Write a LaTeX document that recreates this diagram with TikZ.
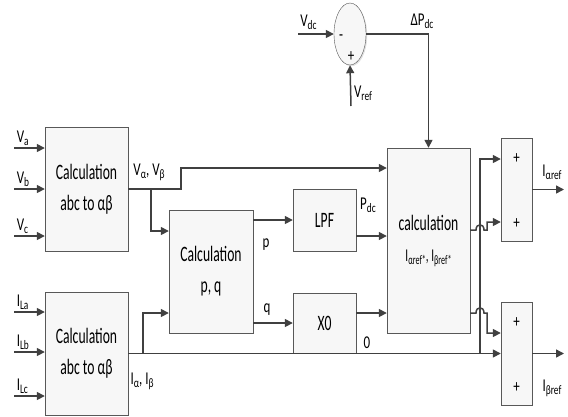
\documentclass[tikz,border=0pt]{standalone}
\usepackage{fontspec}
\setmainfont{Carlito}[FakeStretch=0.72]
\newfontfamily\boxfont{Carlito}[FakeStretch=0.62]
\usetikzlibrary{arrows.meta,shapes.geometric,shadows,positioning}
\definecolor{wirecol}{HTML}{404040}
\definecolor{edgecol}{HTML}{585858}
\newcommand{\lo}[1]{\raisebox{-0.35ex}{\fontsize{13}{13}\selectfont#1}}

\begin{document}
\begin{tikzpicture}[x=1pt,y=-1pt,
	blk/.style={draw=edgecol,fill=gray!6,inner sep=0pt,align=center,
		drop shadow={shadow xshift=1.2pt,shadow yshift=-1.2pt,opacity=.25},
		font=\boxfont\fontsize{22}{31}\selectfont},
	wire/.style={draw=wirecol,line width=1.5pt},
	arr/.style={wire,-{Triangle[length=8pt,width=8pt]}},
	lbl/.style={font=\fontsize{18}{20}\selectfont,inner sep=2pt},
	sgn/.style={font=\fontsize{18}{20}\selectfont,inner sep=0pt}]
	\useasboundingbox (0,0) rectangle (568,416);
	% blocks
	\node[blk,minimum width=83pt,minimum height=124pt] (abcV) at (86.5,189) {Calculation\\abc to αβ};
	\node[blk,minimum width=83pt,minimum height=123pt] (abcI) at (86.5,353.5) {Calculation\\abc to αβ};
	\node[blk,minimum width=84pt,minimum height=123pt] (pq) at (211,271.5) {Calculation\\p, q};
	\node[blk,minimum width=63pt,minimum height=62pt] (lpf) at (324.5,220) {LPF};
	\node[blk,minimum width=63pt,minimum height=60pt] (xo) at (324.5,323) {X0};
	\node[blk,minimum width=83pt,minimum height=185pt] (ref) at (428.5,240.5)
		{calculation\\{\fontsize{18}{20}\selectfont I\lo{αref*}, I\lo{βref*}}};
	\node[blk,minimum width=31pt,minimum height=103pt] (addA) at (516.5,189.5) {};
	\node[blk,minimum width=31pt,minimum height=103pt] (addB) at (516.5,353.5) {};
	\node[blk,ellipse,minimum width=32pt,minimum height=62pt] (sum) at (350,34) {};
	\node[sgn] at (341,38) {-};
	\node[sgn] at (351,57) {+};
	\foreach \y in {159,224} \node[sgn] at (516.5,\y) {+};
	\foreach \y in {323,388} \node[sgn] at (516.5,\y) {+};
	% inputs
	\foreach \y/\s in {148/a,189/b,236/c} {
		\coordinate (inV\s) at (14,\y);
		\draw[arr] (inV\s) node[lbl,anchor=south west] {V\lo{\s}} -- (inV\s -| abcV.west);
	}
	\foreach \y/\s in {312/La,352/Lb,396/Lc} {
		\coordinate (inI\s) at (14,\y);
		\draw[arr] (inI\s) node[lbl,anchor=south west] {I\lo{\s}} -- (inI\s -| abcI.west);
	}
	% voltages
	\coordinate (jV) at (151,189);
	\draw[wire] (abcV.east) -- (jV);
	\draw[arr] (jV) |- (pq.west |- 0,231);
	\draw[arr] (jV) -- (181,189) |- (ref.west |- 0,168);
	\node[lbl] at (149,172) {V\lo{α}, V\lo{β}};
	% currents
	\coordinate (jI) at (143,353.5);
	\coordinate (jR) at (480,353.5);
	\draw[arr] (abcI.east) -- (addB.west);
	\draw[arr] (jI) |- (pq.west |- 0,313);
	\draw[arr] (jR) |- (addA.west |- 0,159);
	\node[lbl] at (142,381) {I\lo{α}, I\lo{β}};
	% p, q
	\draw[arr] (pq.east |- lpf.west) -- (lpf.west);
	\draw[arr] (pq.east |- xo.west) -- (xo.west);
	\node[lbl] at (266,245) {p};
	\node[lbl] at (267,310) {q};
	\draw[arr] (lpf.east |- 0,236) -- (ref.west |- 0,236);
	\draw[arr] (xo.east |- 0,313) -- (ref.west |- 0,313);
	\node[lbl] at (368,205) {P\lo{dc}};
	\node[lbl] at (367,343) {0};
	% dc loop
	\coordinate (vdc) at (298,34);
	\coordinate (vref) at (351,106);
	\draw[arr] (vdc) -- (sum.west);
	\draw[arr] (vref) -- (sum.south);
	\draw[arr] (sum.east) -| (ref.north);
	\node[lbl] at (308.5,22) {V\lo{dc}};
	\node[lbl] at (363,93) {V\lo{ref}};
	\node[lbl] at (422,21) {ΔP\lo{dc}};
	% to adders, hopping over the current line
	\draw[arr] (ref.east |- 0,230) -- (476,230) .. controls (476,223) and (484,223) .. (484,230)
		-- (487,230) |- (addA.west |- 0,222);
	\draw[arr] (ref.east |- 0,313) -- (476,313) .. controls (476,306) and (484,306) .. (484,313)
		-- (487,313) |- (addB.west |- 0,333);
	% outputs
	\coordinate (outA) at (564,189.5);
	\coordinate (outB) at (564,353.5);
	\draw[arr] (addA.east) -- (outA);
	\draw[arr] (addB.east) -- (outB);
	\node[lbl] at (552,172) {I\lo{αref}};
	\node[lbl] at (552,388) {I\lo{βref}};
\end{tikzpicture}
\end{document}
